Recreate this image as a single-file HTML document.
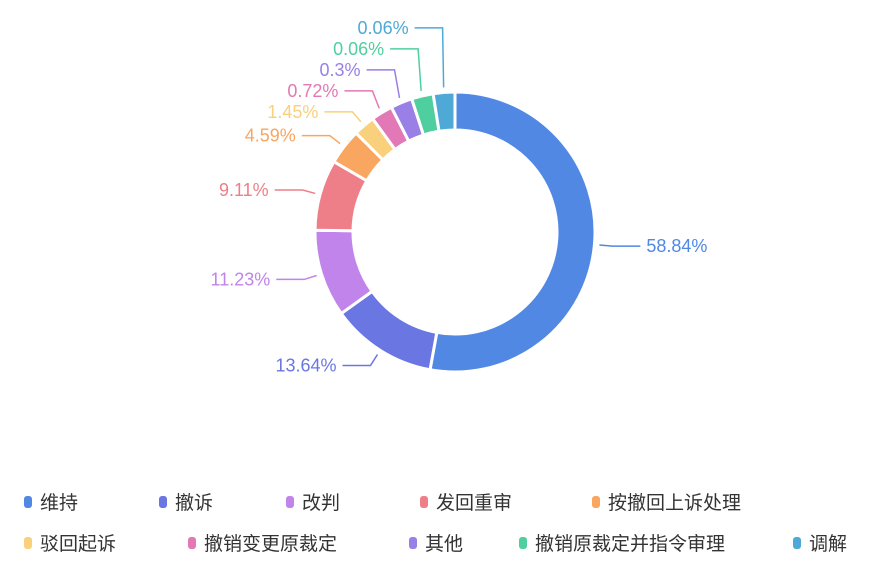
<!DOCTYPE html>
<html><head><meta charset="utf-8"><style>
body{margin:0;background:#fff;width:873px;height:569px;overflow:hidden;font-family:"Liberation Sans","Noto Sans CJK SC",sans-serif}
svg{display:block}
</style></head><body>
<svg id="chart" width="873" height="569" xmlns="http://www.w3.org/2000/svg"></svg>
<script>
const categories=["维持","撤诉","改判","发回重审","按撤回上诉处理","驳回起诉","撤销变更原裁定","其他","撤销原裁定并指令审理","调解"];
const values=[58.84,13.64,11.23,9.11,4.59,1.45,0.72,0.3,0.06,0.06];
const labels=["58.84%","13.64%","11.23%","9.11%","4.59%","1.45%","0.72%","0.3%","0.06%","0.06%"];
const colors=["#5088e4","#6a76e2","#c084ea","#ee7f88","#f8a660","#f9d07c","#e278b6","#9a7fe6","#4fcf9f","#4fa9d6"];
const svg=document.getElementById('chart');
const NS="http://www.w3.org/2000/svg";
const cx=455,cy=232,R=140,r0=102,minAngle=9;
function pt(a,rad){const t=a*Math.PI/180;return [cx+rad*Math.sin(t),cy-rad*Math.cos(t)];}
function mk(tag,attrs){const e=document.createElementNS(NS,tag);for(const k in attrs)e.setAttribute(k,attrs[k]);svg.appendChild(e);return e;}
// angles with minAngle
const total=values.reduce((a,b)=>a+b,0);
let small=values.map(v=>v/total*360<minAngle);
let fixed=small.filter(s=>s).length*minAngle;
let restSum=values.reduce((a,v,i)=>a+(small[i]?0:v),0);
const angles=values.map((v,i)=>small[i]?minAngle:v/restSum*(360-fixed));
let start=0;const mids=[];
angles.forEach((ang,i)=>{
  const a0=start,a1=start+ang;start=a1;
  const p1=pt(a0,R),p2=pt(a1,R),p3=pt(a1,r0),p4=pt(a0,r0);
  const lg=ang>180?1:0;
  const d=`M${p1[0]},${p1[1]}A${R},${R} 0 ${lg} 1 ${p2[0]},${p2[1]}L${p3[0]},${p3[1]}A${r0},${r0} 0 ${lg} 0 ${p4[0]},${p4[1]}Z`;
  const el=mk('path',{d:d,fill:colors[i],stroke:'#fff','stroke-width':3,'stroke-linejoin':'round'});
  
  
  mids.push((a0+a1)/2);
});
// labels
const items=mids.map((m,i)=>{const p=pt(m,R+18);return {i,m,x0:pt(m,R+5),x1:p,y:p[1],right:Math.sin(m*Math.PI/180)>=0&&m<180};});
const left=items.filter(o=>!o.right).sort((a,b)=>b.y-a.y);
for(let k=1;k<left.length;k++){if(left[k].y>left[k-1].y-21)left[k].y=left[k-1].y-21;}
items.forEach(o=>{
  const dir=o.right?1:-1;
  const hx=o.x1[0]+dir*28;
  const ln=mk('polyline',{points:`${o.x0[0]},${o.x0[1]} ${o.x1[0]},${o.y} ${hx},${o.y}`,fill:'none',stroke:colors[o.i],'stroke-width':1.5});
  
  
  const t=mk('text',{x:hx+dir*6,y:o.y+6,'text-anchor':o.right?'start':'end','font-size':18,fill:colors[o.i]});
  t.textContent=labels[o.i];
  
  
});
// legend
const legX=[[28,163,290,424,596],[28,192,413,523,797]];
const legY=[502,543];
categories.forEach((c,i)=>{
  const row=Math.floor(i/5),col=i%5;
  const x=legX[row][col],y=legY[row];
  const g=document.createElementNS(NS,'g');svg.appendChild(g);
  
  
  const rc=document.createElementNS(NS,'rect');
  rc.setAttribute('x',x-4);rc.setAttribute('y',y-6);rc.setAttribute('width',8);rc.setAttribute('height',12);rc.setAttribute('rx',3);rc.setAttribute('fill',colors[i]);
  g.appendChild(rc);
  const t=document.createElementNS(NS,'text');
  t.setAttribute('x',x+12);t.setAttribute('y',y+7);t.setAttribute('font-size',19);t.setAttribute('fill','#333');
  t.textContent=c;g.appendChild(t);
});
</script>
</body></html>
